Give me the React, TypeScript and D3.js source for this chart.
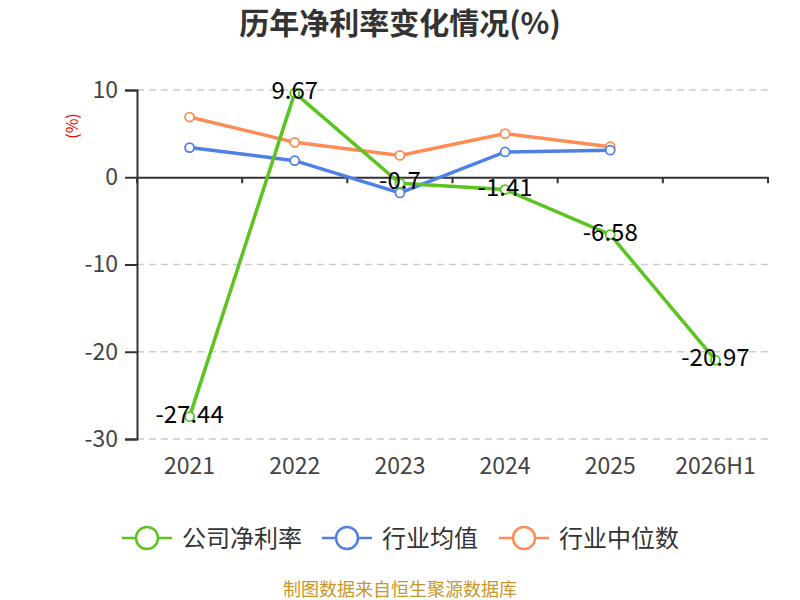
import React, { useEffect, useRef } from 'react';
import * as d3 from 'd3';

const categories = ['2021', '2022', '2023', '2024', '2025', '2026H1'];
const companyRate = [-27.44, 9.67, -0.7, -1.41, -6.58, -20.97];
const industryAvg = [3.4, 1.9, -1.8, 2.9, 3.1, null];
const industryMedian = [6.9, 4.0, 2.5, 5.0, 3.5, null];
const yTicks = [10, 0, -10, -20, -30];

const seriesNames = ['公司净利率', '行业均值', '行业中位数'];
const colors = ['#5cc41f', '#4e80e6', '#ff8c55'];

const App = () => {
	const ref = useRef<SVGSVGElement>(null);
	useEffect(() => drawChart());
	function drawChart() {
		const svg = d3.select(ref.current);
		svg.selectAll('*').remove();
		const font = '"Noto Sans CJK SC", "Noto Sans", sans-serif';
		const left = 137, right = 768, top = 90, bottom = 439;

		const x = d3.scaleBand().domain(categories).range([left, right]);
		const y = d3.scaleLinear().domain([-30, 10]).range([bottom, top]);

		svg.append('text')
			.text('历年净利率变化情况(%)')
			.attr('x', 400).attr('y', 34)
			.attr('text-anchor', 'middle')
			.attr('font-size', 30).attr('font-weight', 'bold')
			.attr('fill', '#333').attr('font-family', font);

		svg.append('text')
			.text('(%)')
			.attr('transform', 'translate(78,126) rotate(-90)')
			.attr('text-anchor', 'middle')
			.attr('font-size', 16).attr('fill', 'red').attr('font-family', font);

		// grid
		svg.append('g').selectAll('line')
			.data(yTicks.filter(d => d !== 0))
			.enter().append('line')
			.attr('x1', left).attr('x2', right)
			.attr('y1', d => y(d)).attr('y2', d => y(d))
			.attr('stroke', '#ccc').attr('stroke-width', 1.5)
			.attr('stroke-dasharray', '7,5');

		// y axis
		const yAxis = svg.append('g')
			.attr('transform', `translate(${left},0)`)
			.call(d3.axisLeft(y).tickValues(yTicks).tickSize(12).tickPadding(7).tickFormat(d => String(d)));
		yAxis.select('.domain').attr('stroke', '#333').attr('stroke-width', 2);
		yAxis.selectAll('line').attr('stroke', '#333').attr('stroke-width', 2);
		yAxis.selectAll('text').attr('font-size', 23).attr('fill', '#444').attr('font-family', font);

		// x axis at zero
		const xAxis = svg.append('g')
			.attr('transform', `translate(0,${y(0)})`)
			.call(d3.axisBottom(x).tickSize(0).tickFormat(() => ''));
		xAxis.select('.domain').attr('stroke', '#333').attr('stroke-width', 2);
		svg.append('g').selectAll('line')
			.data(d3.range(categories.length + 1))
			.enter().append('line')
			.attr('x1', i => left + i * x.step()).attr('x2', i => left + i * x.step())
			.attr('y1', y(0)).attr('y2', y(0) + 6)
			.attr('stroke', '#333').attr('stroke-width', 2);
		svg.append('g').selectAll('text')
			.data(categories)
			.enter().append('text')
			.text(d => d)
			.attr('x', d => (x(d) as number) + x.bandwidth() / 2)
			.attr('y', 474)
			.attr('text-anchor', 'middle')
			.attr('font-size', 23).attr('fill', '#444').attr('font-family', font);

		const cx = (d: string) => (x(d) as number) + x.bandwidth() / 2;
		const allSeries = [companyRate, industryAvg, industryMedian];
		const drawOrder = [2, 1, 0];
		drawOrder.forEach(si => {
			const pts = categories.map((c, i) => ({ c, v: allSeries[si][i] })).filter(p => p.v !== null) as { c: string, v: number }[];
			const line = d3.line<{ c: string, v: number }>().x(p => cx(p.c)).y(p => y(p.v));
			svg.append('path')
				.attr('d', line(pts))
				.attr('fill', 'none').attr('stroke', colors[si]).attr('stroke-width', 3.5);
			svg.append('g').selectAll('circle')
				.data(pts)
				.enter().append('circle')
				.attr('cx', p => cx(p.c)).attr('cy', p => y(p.v))
				.attr('r', 4.5)
				.attr('fill', '#fff').attr('stroke', colors[si]).attr('stroke-width', 1.8);
		});

		// value labels
		svg.append('g').selectAll('text')
			.data(categories.map((c, i) => ({ c, v: companyRate[i] })))
			.enter().append('text')
			.text(p => String(p.v))
			.attr('x', p => cx(p.c)).attr('y', p => y(p.v) + 6)
			.attr('text-anchor', 'middle')
			.attr('font-size', 24).attr('fill', '#000').attr('font-family', font);

		// legend
		const legendX = [122, 322, 499];
		seriesNames.forEach((name, i) => {
			const g = svg.append('g').attr('transform', `translate(${legendX[i]},538)`);
			g.append('line').attr('x1', 0).attr('x2', 50).attr('y1', 0).attr('y2', 0)
				.attr('stroke', colors[i]).attr('stroke-width', 2.5);
			g.append('circle').attr('cx', 25).attr('cy', 0).attr('r', 11)
				.attr('fill', '#fff').attr('stroke', colors[i]).attr('stroke-width', 2.5);
			g.append('text').text(name)
				.attr('x', 60).attr('y', 9)
				.attr('font-size', 24).attr('fill', '#333').attr('font-family', font);
		});

		svg.append('text')
			.text('制图数据来自恒生聚源数据库')
			.attr('x', 400).attr('y', 596)
			.attr('text-anchor', 'middle')
			.attr('font-size', 18).attr('fill', '#c9962a').attr('font-family', font);
	}
	return <svg ref={ref} width={800} height={600} style={{ position: 'absolute', left: 0, top: 0, background: '#fff' }}></svg>;
};

export default App;
